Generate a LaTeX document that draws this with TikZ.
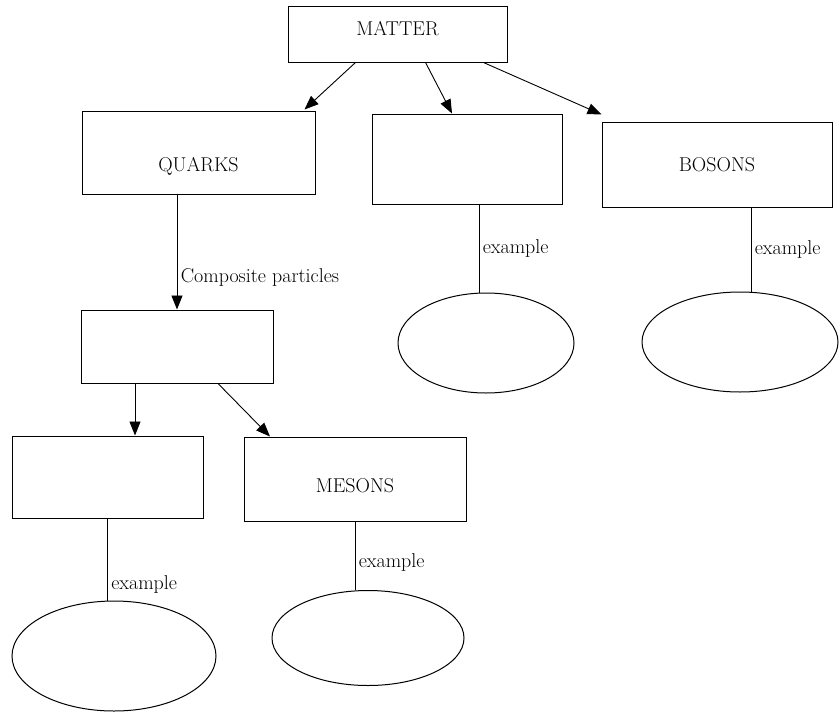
\documentclass[tikz,border=0pt]{standalone}
\usepackage{tikz}
\usetikzlibrary{arrows.meta,positioning,calc,shapes.geometric}

\begin{document}
\begin{tikzpicture}[x=1pt,y=-1pt,
  box/.style={draw,line width=1pt,inner sep=0pt,font=\fontsize{20}{24}\selectfont},
  blob/.style={draw,ellipse,line width=1pt,inner sep=0pt},
  ex/.style={right,font=\fontsize{20}{24}\selectfont},
  >={Triangle[length=14pt,width=11pt]}]
\useasboundingbox (0,0) rectangle (840,712);
% boxes
\node[box,minimum width=219pt,minimum height=56pt,text height=13.7pt,text depth=10pt] (matter) at (397.5,34) {MATTER};
\node[box,minimum width=233pt,minimum height=83pt,text height=38pt,text depth=0pt] (quarks) at (198.5,152.5) {QUARKS};
\node[box,minimum width=190pt,minimum height=90pt] (midbox) at (467,159) {};
\node[box,minimum width=230pt,minimum height=85pt] (bosons) at (717,164.5) {BOSONS};
\node[box,minimum width=192pt,minimum height=73pt] (comp) at (177,346.5) {};
\node[box,minimum width=191pt,minimum height=82pt] (lbox) at (107.5,477) {};
\node[box,minimum width=222pt,minimum height=84pt,text height=26pt,text depth=0pt] (mesons) at (355,479) {MESONS};
% ellipses
\node[blob,minimum width=176pt,minimum height=100pt] (midell) at (486,343) {};
\node[blob,minimum width=196pt,minimum height=100pt] (bosell) at (740,342) {};
\node[blob,minimum width=204pt,minimum height=110pt] (lell) at (114,656) {};
\node[blob,minimum width=192pt,minimum height=95pt] (mesell) at (368,638) {};
\path[->,line width=0.9pt]
([xshift=-42pt]matter.south) edge ([xshift=106pt,yshift=1pt]quarks.north)
([xshift=28pt]matter.south) edge ([xshift=-15pt]midbox.north)
([xshift=86pt]matter.south) edge ([yshift=7pt]bosons.north west)
(quarks.south -| comp.north) edge node[ex,pos=.72] {Composite particles} (comp.north)
([xshift=-42pt]comp.south) edge ([xshift=-42pt]comp.south |- lbox.north)
([xshift=41pt]comp.south) edge ([xshift=-85pt]mesons.north)
;
\path[-,line width=0.9pt]
(midbox.south -| 479,0) edge node[ex] {example} (479,0 |- midell.north)
(bosons.south -| 751,0) edge node[ex] {example} (751,0 |- bosell.north)
(lbox.south) edge node[ex,pos=.8] {example} (lbox.south |- lell.north)
(mesons.south) edge node[ex,pos=.6] {example} (mesons.south |- mesell.north)
;
\end{tikzpicture}
\end{document}
